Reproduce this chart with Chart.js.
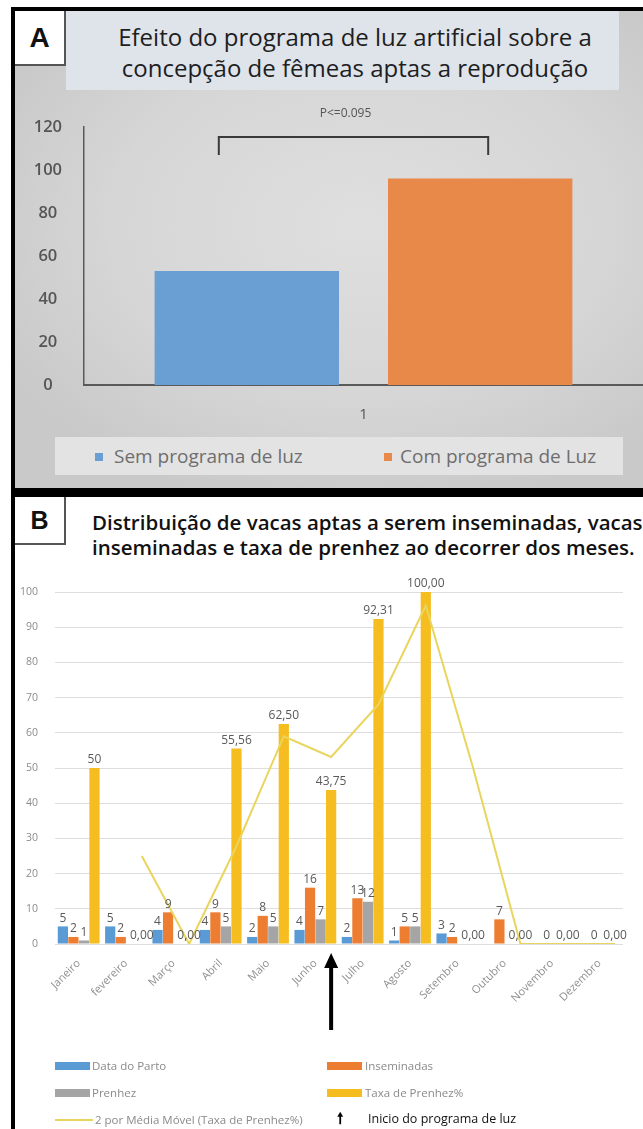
<!DOCTYPE html>
<html>
<head>
<meta charset="utf-8">
<script src="https://cdn.jsdelivr.net/npm/chart.js@4.4.0/dist/chart.umd.min.js"></script>
<style>
  html, body { margin: 0; padding: 0; background: #fff; }
  body { width: 643px; height: 1129px; position: relative; overflow: hidden; font-family: "Open Sans", sans-serif; }
  .abs { position: absolute; }
  .preto { position: absolute; background: #000; }
  #fundoA { left: 15px; top: 11px; width: 628px; height: 477px;
    background: radial-gradient(ellipse 65% 60% at 55% 45%, #dfdfdf 0%, #d6d6d6 60%, #c9c9c9 100%); }
  .letra { background: #fff; border-right: 2px solid #555; border-bottom: 2px solid #555;
    font-family: "Liberation Sans", Arial, sans-serif; font-weight: bold; color: #111;
    display: flex; align-items: center; justify-content: center; box-sizing: border-box; }
  #tituloA { left: 66px; top: 11px; width: 553px; height: 79px; background: #dfe3ea; }
  #textoA { left: 80px; top: 21px; width: 550px; text-align: center; font-size: 24px; line-height: 31px; color: #1e1e1e; white-space: nowrap; }
  #legendaA { left: 55px; top: 437px; width: 568px; height: 38px; background: #e3e3e3; }
  .itA { position: absolute; top: 444px; font-size: 19px; line-height: 24px; color: #6e6e6e; white-space: nowrap; }
  .qA { position: absolute; top: 453px; width: 8px; height: 8px; }
  #tituloB { left: 92px; top: 510px; font-size: 20.5px; font-weight: 600; line-height: 25px; color: #111; white-space: nowrap; }
  .itB { position: absolute; font-size: 11.5px; line-height: 14px; color: #8a8a8a; white-space: nowrap; }
  .rB { position: absolute; width: 35px; height: 8px; }
</style>
</head>
<body>
<div class="abs" id="fundoA"></div>
<div class="preto" style="left:11px; top:7px; width:632px; height:4px;"></div>
<div class="preto" style="left:11px; top:7px; width:4px; height:1122px;"></div>
<div class="preto" style="left:11px; top:488px; width:632px; height:9px;"></div>

<div class="abs" id="tituloA"></div>
<div class="abs letra" style="left:15px; top:11px; width:51px; height:55px; font-size:28px;">A</div>
<div class="abs" id="textoA">Efeito do programa de luz artificial sobre a<br>concepção de fêmeas aptas a reprodução</div>

<canvas id="graficoA" class="abs" style="left:15px; top:95px;" width="628" height="335"></canvas>

<div class="abs" id="legendaA"></div>
<div class="qA" style="left:95px; background:#6a9fd4;"></div>
<div class="itA" style="left:114px;">Sem programa de luz</div>
<div class="qA" style="left:384px; background:#e8894a;"></div>
<div class="itA" style="left:400px;">Com programa de Luz</div>

<div class="abs letra" style="left:15px; top:497px; width:51px; height:48px; font-size:25px;">B</div>
<div class="abs" id="tituloB">Distribuição de vacas aptas a serem inseminadas, vacas<br>inseminadas e taxa de prenhez ao decorrer dos meses.</div>

<canvas id="graficoB" class="abs" style="left:15px; top:560px;" width="628" height="500"></canvas>

<div class="rB" style="left:55px; top:1062px; background:#5b9bd5;"></div>
<div class="itB" style="left:92px; top:1059px;">Data do Parto</div>
<div class="rB" style="left:327px; top:1062px; background:#ed7d31;"></div>
<div class="itB" style="left:365px; top:1059px;">Inseminadas</div>
<div class="rB" style="left:55px; top:1089px; background:#a5a5a5;"></div>
<div class="itB" style="left:92px; top:1086px;">Prenhez</div>
<div class="rB" style="left:327px; top:1089px; background:#f5bd1f;"></div>
<div class="itB" style="left:365px; top:1086px;">Taxa de Prenhez%</div>
<div class="abs" style="left:55px; top:1119px; width:38px; height:2px; background:#e9d55e;"></div>
<div class="itB" style="left:95px; top:1113px;">2 por Média Móvel (Taxa de Prenhez%)</div>
<div class="itB" style="left:337px; top:1110px; color:#000; font-size:15px; font-weight:bold;">&#129045;</div>
<div class="itB" style="left:368px; top:1112px; color:#111; font-size:12.5px;">Inicio do programa de luz</div>

<script>
// Painel A
const categoriasA = ["1"];
const semLuz = [53];
const comLuz = [96];
const ticksA = [0, 20, 40, 60, 80, 100, 120];

// Painel B
const meses = ["Janeiro", "fevereiro", "Março", "Abril", "Maio", "Junho", "Julho", "Agosto", "Setembro", "Outubro", "Novembro", "Dezembro"];
const dataParto = [5, 5, 4, 4, 2, 4, 2, 1, 3, null, null, null];
const inseminadas = [2, 2, 9, 9, 8, 16, 13, 5, 2, 7, 0, 0];
const prenhez = [1, null, null, 5, 5, 7, 12, 5, null, null, null, null];
const taxaPrenhez = [50, 0, 0, 55.56, 62.5, 43.75, 92.31, 100, 0, 0, 0, 0];
const rotulosTaxa = ["50", "0,00", "0,00", "55,56", "62,50", "43,75", "92,31", "100,00", "0,00", "0,00", "0,00", "0,00"];
const mediaMovel = [null, 25, 0, 27.78, 59.03, 53.13, 68.03, 96.16, 50, 0, 0, 0];
const ticksB = [0, 10, 20, 30, 40, 50, 60, 70, 80, 90, 100];

const FONTE = "'Open Sans', sans-serif";
const CAT_B = 0.89;
const BAR_B = 0.97;
// a media movel fica alinhada com a 4a barra de cada mes
const DESLOC = 1.5 * CAT_B / 4;

const colchete = {
  id: "colchete",
  afterDraw(chart) {
    const ctx = chart.ctx;
    const azul = chart.getDatasetMeta(0).data[0];
    const laranja = chart.getDatasetMeta(1).data[0];
    const top = chart.chartArea.top;
    const x1 = azul.x - 28, x2 = laranja.x + 8;
    ctx.save();
    ctx.strokeStyle = "#3a3a3a";
    ctx.lineWidth = 2;
    ctx.beginPath();
    ctx.moveTo(x1, top + 28);
    ctx.lineTo(x1, top + 10);
    ctx.lineTo(x2, top + 10);
    ctx.lineTo(x2, top + 28);
    ctx.stroke();
    ctx.fillStyle = "#555";
    ctx.font = "12px " + FONTE;
    ctx.textAlign = "center";
    ctx.textBaseline = "middle";
    ctx.fillText("P<=0.095", (x1 + x2) / 2 - 8, top - 13);
    ctx.restore();
  }
};

new Chart(document.getElementById("graficoA"), {
  type: "bar",
  data: {
    labels: categoriasA,
    datasets: [
      { label: "Sem programa de luz", data: semLuz, backgroundColor: "#6a9fd4", categoryPercentage: 0.835, barPercentage: 0.79 },
      { label: "Com programa de Luz", data: comLuz, backgroundColor: "#e8894a", categoryPercentage: 0.835, barPercentage: 0.79 }
    ]
  },
  options: {
    responsive: false,
    animation: false,
    layout: { padding: { top: 20, right: 0, left: 0, bottom: 0 } },
    plugins: { legend: { display: false }, tooltip: { enabled: false } },
    scales: {
      x: {
        grid: { display: false, drawTicks: false },
        border: { display: true, color: "#5a5a5a", width: 2 },
        ticks: { color: "#555", font: { size: 15, family: FONTE }, padding: 21 },
        afterFit: a => { a.height = 45; }
      },
      y: {
        min: 0, max: 120,
        afterBuildTicks: s => { s.ticks = ticksA.map(v => ({ value: v })); },
        grid: { display: false, drawTicks: false },
        border: { display: true, color: "#5a5a5a", width: 1.5 },
        ticks: { color: "#555", font: { size: 16.5, weight: "600", family: FONTE }, padding: 22, crossAlign: "center" },
        afterFit: a => { a.width = 69; }
      }
    }
  },
  plugins: [colchete]
});

const rotulosB = {
  id: "rotulosB",
  afterDatasetsDraw(chart) {
    const ctx = chart.ctx;
    ctx.save();
    ctx.font = "12px " + FONTE;
    ctx.fillStyle = "#595959";
    ctx.textAlign = "center";
    ctx.textBaseline = "bottom";
    chart.data.datasets.forEach((ds, di) => {
      if (ds.type === "line") return;
      chart.getDatasetMeta(di).data.forEach((barra, i) => {
        const v = ds.data[i].y;
        if (v === null) return;
        const txt = ds.rotulos ? ds.rotulos[i] : String(v);
        ctx.fillText(txt, barra.x, barra.y - 2);
      });
    });
    // seta: inicio do programa de luz (junho)
    const x = chart.getDatasetMeta(3).data[5].x;
    const base = chart.chartArea.bottom;
    ctx.fillStyle = "#000";
    ctx.fillRect(x - 2, base + 20, 4, 66);
    ctx.beginPath();
    ctx.moveTo(x, base + 9);
    ctx.lineTo(x - 7, base + 24);
    ctx.lineTo(x + 7, base + 24);
    ctx.closePath();
    ctx.fill();
    ctx.restore();
  }
};

const pontos = arr => arr.map((v, i) => ({ x: i, y: v }));
const barB = { categoryPercentage: CAT_B, barPercentage: BAR_B, order: 1 };

new Chart(document.getElementById("graficoB"), {
  type: "bar",
  data: {
    datasets: [
      { label: "Data do Parto", data: pontos(dataParto), backgroundColor: "#5b9bd5", ...barB },
      { label: "Inseminadas", data: pontos(inseminadas), backgroundColor: "#ed7d31", ...barB },
      { label: "Prenhez", data: pontos(prenhez), backgroundColor: "#a5a5a5", ...barB },
      { label: "Taxa de Prenhez%", data: pontos(taxaPrenhez), backgroundColor: "#f5bd1f", rotulos: rotulosTaxa, ...barB },
      {
        type: "line",
        label: "2 por Média Móvel (Taxa de Prenhez%)",
        data: mediaMovel.map((v, i) => ({ x: i + DESLOC, y: v })),
        borderColor: "#e9d55e",
        borderWidth: 2,
        pointRadius: 0,
        tension: 0,
        order: 0
      }
    ]
  },
  options: {
    responsive: false,
    animation: false,
    layout: { padding: { top: 32, right: 20, left: 0, bottom: 56 } },
    plugins: { legend: { display: false }, tooltip: { enabled: false } },
    scales: {
      x: {
        type: "linear",
        min: -0.5, max: 11.5,
        offset: false,
        afterBuildTicks: s => { s.ticks = meses.map((m, i) => ({ value: i })); },
        grid: { display: false, drawTicks: false },
        border: { display: false },
        ticks: { color: "#8f8f8f", font: { size: 11, family: FONTE }, minRotation: 45, maxRotation: 45, autoSkip: false, padding: 13,
                 callback: (v, i) => meses[i] },
        afterFit: a => { a.height = 60; }
      },
      y: {
        min: 0, max: 100,
        afterBuildTicks: s => { s.ticks = ticksB.map(v => ({ value: v })); },
        grid: { color: "#dedede", drawTicks: false },
        border: { display: false },
        ticks: { color: "#8c8c8c", font: { size: 10.5, family: FONTE }, padding: 17 },
        afterFit: a => { a.width = 40; }
      }
    }
  },
  plugins: [rotulosB]
});
</script>
</body>
</html>
